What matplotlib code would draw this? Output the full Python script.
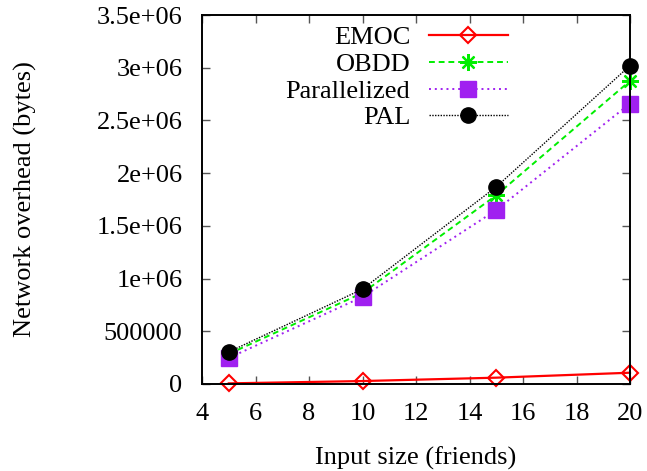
import matplotlib
matplotlib.use("Agg")
import matplotlib.pyplot as plt

x = [5, 10, 15, 20]
emoc = [6000, 28000, 60000, 107000]
obdd = [285000, 864000, 1790000, 2875000]
parallelized = [247000, 826000, 1650000, 2660000]
pal = [304000, 900000, 1870000, 3020000]

xticks = [4, 6, 8, 10, 12, 14, 16, 18, 20]
yticks = [0, 500000, 1000000, 1500000, 2000000, 2500000, 3000000, 3500000]
ylabels = ["0", "500000", "1e+06", "1.5e+06", "2e+06", "2.5e+06", "3e+06", "3.5e+06"]

plt.rcParams['font.family'] = ['Liberation Serif', 'DejaVu Serif']
FS = 19
plt.rcParams['font.size'] = FS

W, H = 647, 471
fig = plt.figure(figsize=(W / 100, H / 100), dpi=100)
L, R, T, B = 202, 630, 15, 384
ax = fig.add_axes([L / W, 1 - B / H, (R - L) / W, (B - T) / H])

red = '#ff0000'
green = '#00ee00'
purple = '#a020f0'

styles = [
    dict(color=red, lw=1.6, ls='-', marker='D', ms=8, mfc='none', mec=red, mew=1.5),
    dict(color=green, lw=1.4, ls=(0, (3, 2)), marker=(8, 2, 0), ms=12, mec=green, mew=1.6),
    dict(color=purple, lw=1.4, ls=(0, (1, 2)), marker='s', ms=11, mfc=purple, mec=purple),
    dict(color='black', lw=1.0, ls=(0, (1, 1)), marker='o', ms=11, mfc='black', mec='black'),
]
series = [emoc, obdd, parallelized, pal]
names = ['EMOC', 'OBDD', 'Parallelized', 'PAL']

handles = []
for ys, st, nm in zip(series, styles, names):
    h, = ax.plot(x, ys, label=nm, clip_on=False, **st)
    handles.append(h)

ax.set_xlim(4, 20)
ax.set_ylim(0, 3500000)
ax.set_xticks(xticks)
ax.set_yticks(yticks)
ax.set_yticklabels(ylabels)
ax.tick_params(direction='in', top=True, right=True, length=6, width=1.0, color='#555555')
ax.tick_params(axis='y', labelsize=FS, pad=14)
ax.tick_params(axis='x', labelsize=FS, pad=14)
for s in ax.spines.values():
    s.set_linewidth(1.4)
ax.set_xlabel('Input size (friends)', fontsize=FS, labelpad=15)
ax.set_ylabel('Network overhead (bytes)', fontsize=FS)
ax.yaxis.set_label_coords((37 - L) / (R - L), 0.5)

leg = ax.legend(handles, names, loc='upper right',
                bbox_to_anchor=(508 / W, 1 - 26 / H), bbox_transform=fig.transFigure,
                frameon=False, markerfirst=False, handlelength=3.0, handletextpad=0.7,
                labelspacing=0.12, fontsize=FS, borderpad=0, borderaxespad=0)

fig.savefig('out.png', dpi=100)
